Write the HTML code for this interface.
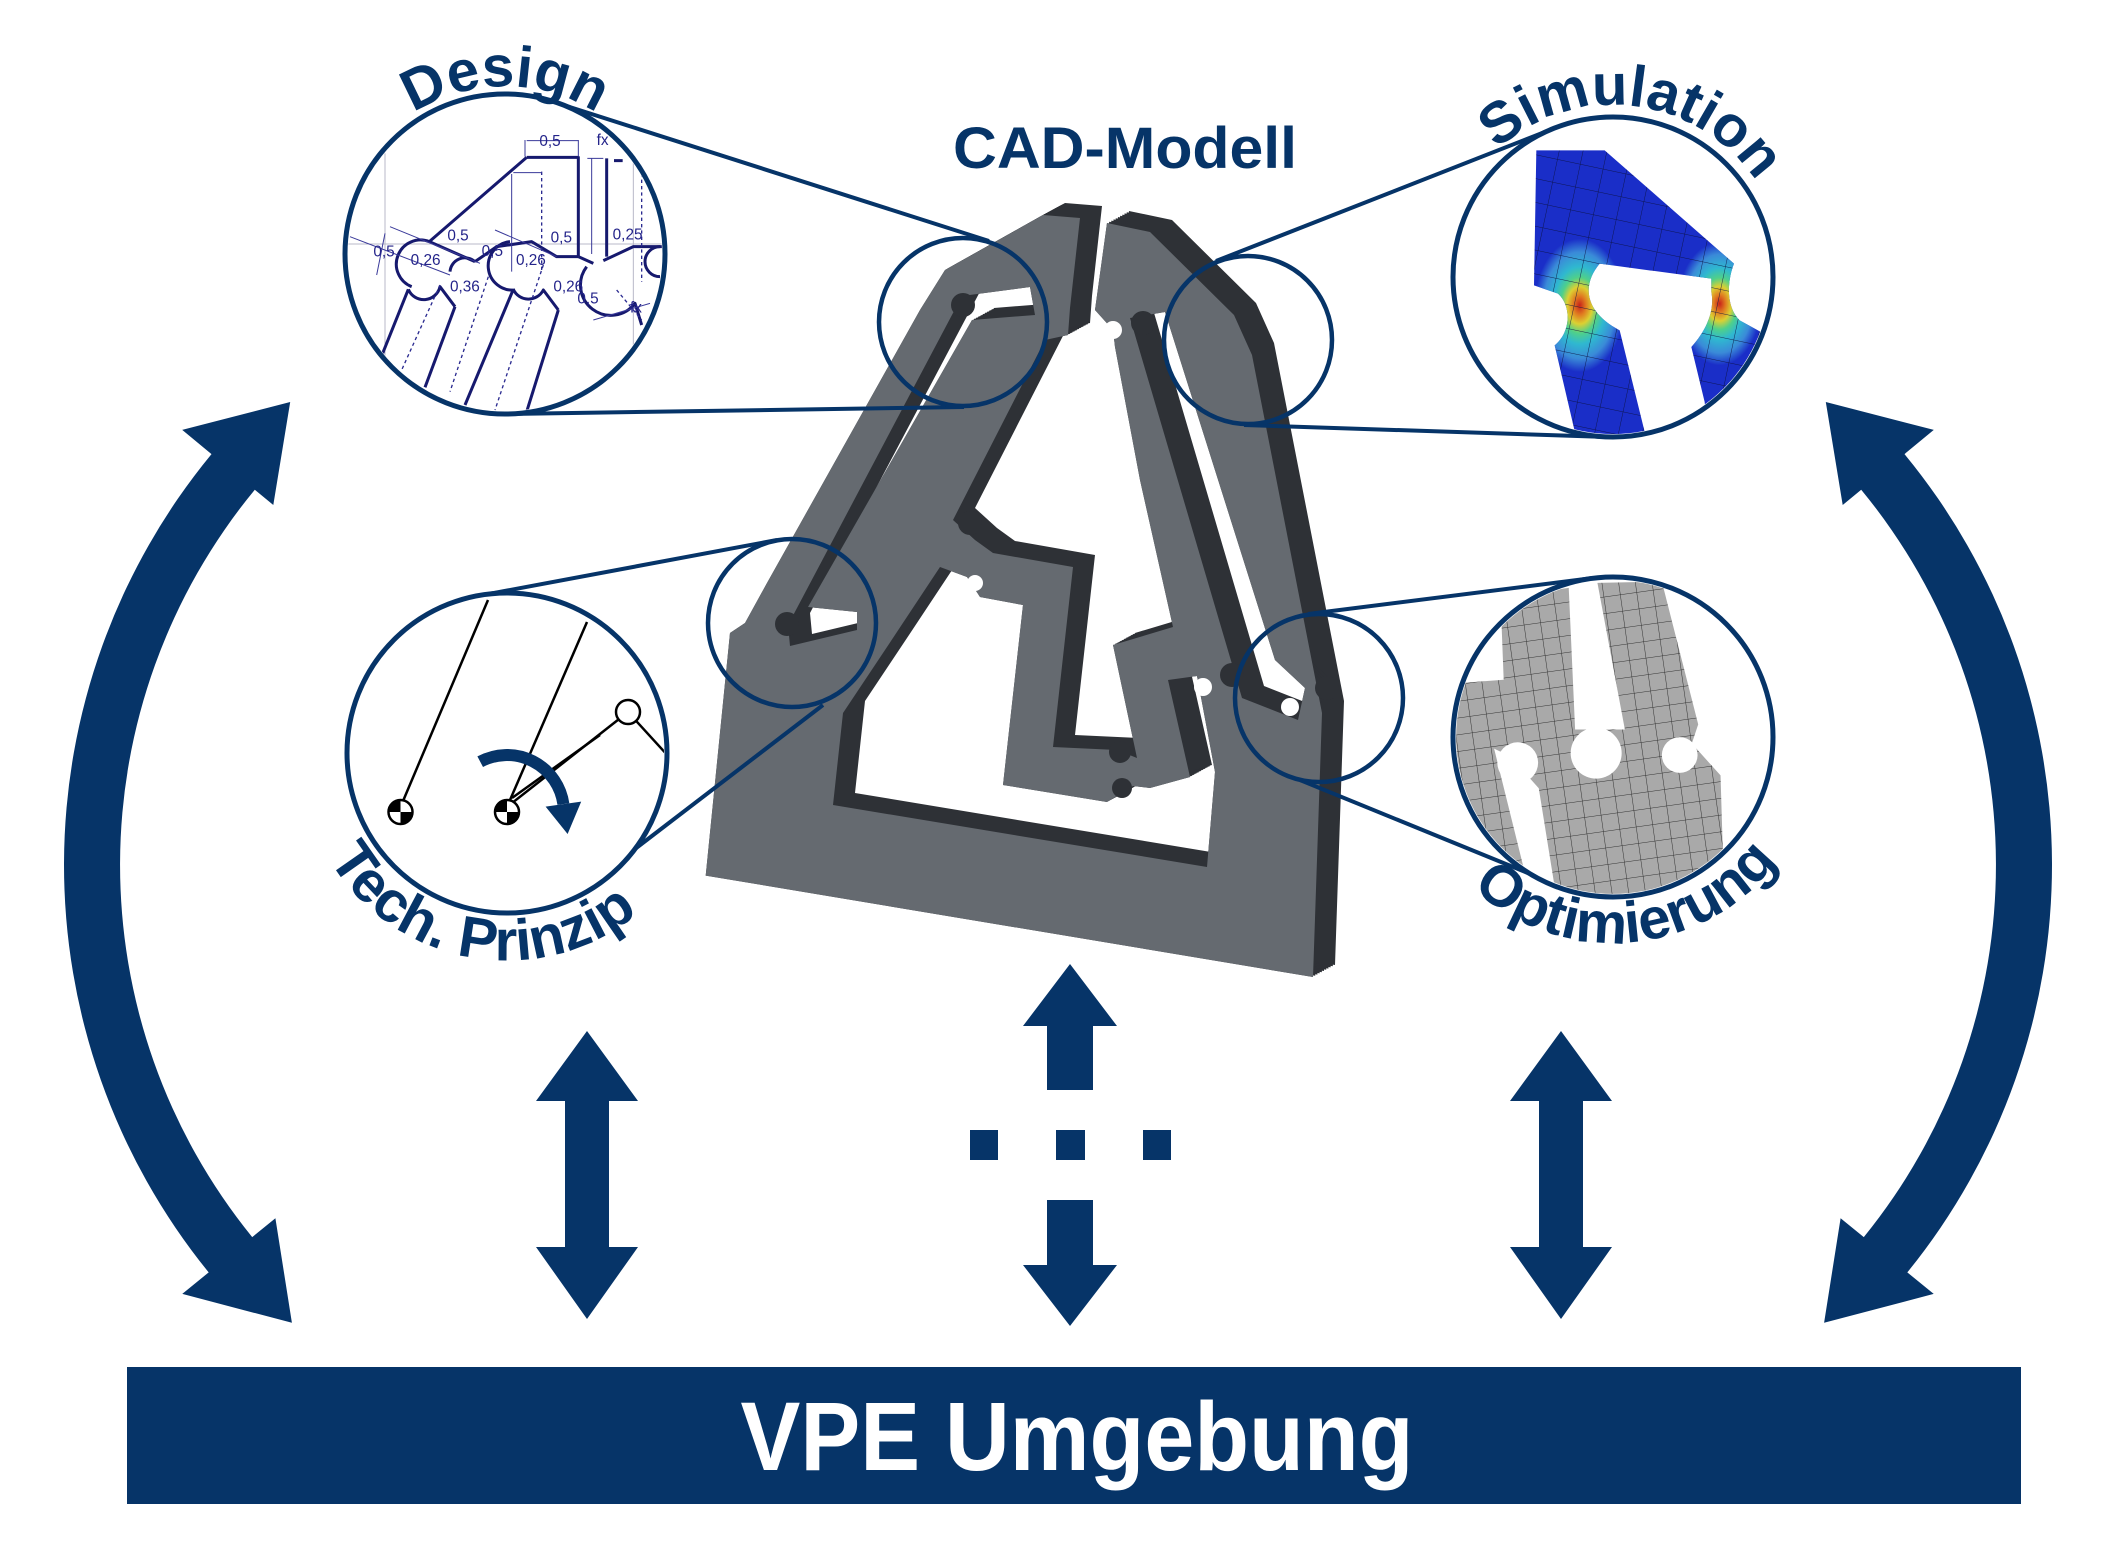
<!DOCTYPE html>
<html><head><meta charset="utf-8"><style>
html,body{margin:0;padding:0;background:#fff;}
svg{display:block;}
</style></head><body>
<svg width="2121" height="1561" viewBox="0 0 2121 1561" xmlns="http://www.w3.org/2000/svg">
<defs>
<path id="F" fill-rule="evenodd" d="M705.7,875.6 L730,633 L745,623 L767,583 L920,310 L945,270 L1043,215 L1080,218 L1070,308 L1068,335 L1045,340 L953,520 L975,540 L993,553 L1073,567 L1053,747 L1117,750 L1137,758 L1113,645 L1173,627 L1140,480 L1115,347 L1113,330 L1095,310 L1107,223 L1150,232 L1234,315 L1252,355 L1322,713 L1313,977 Z
M940,567 L967,577 L980,597 L1023,605 L1003,785 L1107,802 L1133,786 L1150,788 L1190,777 L1168,680 L1197,676 L1215,772 L1207,867 L833,805 L843,713 L887,647 Z
M962,296 L1030,287 L1035,315 L972,320 L808,607 L857,612 L857,630 L790,646 L788,625 Z
M1130,318 L1165,312 L1275,660 L1305,688 L1298,720 L1242,698 Z"/>
<clipPath id="cD"><circle cx="495" cy="492" r="471"/></clipPath>
<clipPath id="cS"><circle cx="495" cy="495" r="471"/></clipPath>
<clipPath id="cO"><circle cx="771.4" cy="559.7" r="246"/></clipPath>
<clipPath id="cT"><circle cx="507" cy="753" r="157"/></clipPath>
<path id="blueS" d="M265,115 L470,115 L858,455 C840,500 830,580 875,625 L930,655 L1000,700 L1000,1000 L780,1000 L770,870 L730,705 C780,650 800,590 790,540 L790,500 L455,455 C400,520 410,600 515,655 L600,1000 L390,1000 L320,700 C370,660 370,580 330,545 L258,520 Z"/>
<clipPath id="cBlue"><use href="#blueS"/></clipPath>
<radialGradient id="hot" cx="0.5" cy="0.5" r="0.5">
<stop offset="0" stop-color="#c8221a"/>
<stop offset="0.14" stop-color="#e07a20"/>
<stop offset="0.28" stop-color="#dcd032"/>
<stop offset="0.42" stop-color="#4fd08a"/>
<stop offset="0.58" stop-color="#2fb8d0"/>
<stop offset="0.8" stop-color="#3a8ad8"/>
<stop offset="1" stop-color="#3a8ad8" stop-opacity="0"/>
</radialGradient>
<pattern id="meshS" width="70" height="70" patternUnits="userSpaceOnUse" patternTransform="rotate(12)">
<path d="M0,0H70M0,0V70" stroke="#0a1040" stroke-width="3" fill="none" opacity="0.85"/>
</pattern>
<pattern id="meshO" width="26" height="26" patternUnits="userSpaceOnUse" patternTransform="rotate(-8)">
<rect width="26" height="26" fill="#a9a9a9"/>
<path d="M0,0H26M0,0V26" stroke="#333" stroke-width="1.6" fill="none"/>
</pattern>
<path id="pD" d="M339.6,224.8 A168,168 0 0 1 670.4,224.8" fill="none"/>
<path id="pS" d="M1448.5,226.7 A172,172 0 0 1 1784.8,268" fill="none"/>
<path id="pT" d="M302,724.2 A207,207 0 0 0 709.5,796" fill="none"/>
<path id="pO" d="M1407.6,762.2 A207,207 0 0 0 1819.7,726.2" fill="none"/>
</defs>

<rect width="2121" height="1561" fill="#fff"/>

<!-- curved arrows -->
<path fill="#063468" d="M211.5,454.1 A646,646 0 0 0 208.7,1272.4 L182.3,1293.9 L291.9,1322.8 L275.4,1218.2 L252.2,1237.1 A590,590 0 0 1 254.8,489.7 L273.3,505 L290.2,402 L182.2,429.9 Z"/>
<path fill="#063468" d="M1904.5,454.1 A646,646 0 0 1 1907.3,1272.4 L1933.7,1293.9 L1824.1,1322.8 L1840.6,1218.2 L1863.8,1237.1 A590,590 0 0 0 1861.2,489.7 L1842.7,505 L1825.8,402 L1933.8,429.9 Z"/>

<!-- vertical arrows -->
<polygon fill="#063468" points="587,1031 638,1101 609,1101 609,1247 638,1247 587,1319 536,1247 565,1247 565,1101 536,1101"/>
<polygon fill="#063468" points="1561,1031 1612,1101 1583,1101 1583,1247 1612,1247 1561,1319 1510,1247 1539,1247 1539,1101 1510,1101"/>
<polygon fill="#063468" points="1070,964 1117,1026 1093,1026 1093,1090 1047,1090 1047,1026 1023,1026"/>
<polygon fill="#063468" points="1047,1200 1093,1200 1093,1265 1117,1265 1070,1326 1023,1265 1047,1265"/>
<rect x="970" y="1130" width="28" height="30" fill="#063468"/>
<rect x="1056" y="1130" width="29" height="30" fill="#063468"/>
<rect x="1143" y="1130" width="28" height="30" fill="#063468"/>

<!-- VPE bar -->
<rect x="127" y="1367" width="1894" height="137" fill="#063468"/>
<text x="1077" y="1470" text-anchor="middle" font-family="Liberation Sans, Arial, sans-serif" font-weight="bold" font-size="97" fill="#fff" textLength="673" lengthAdjust="spacingAndGlyphs">VPE Umgebung</text>

<!-- CAD model -->
<g fill="#2e3136">
<use href="#F"/>
<use href="#F" transform="translate(2.2,-1.2)"/>
<use href="#F" transform="translate(4.4,-2.4)"/>
<use href="#F" transform="translate(6.6,-3.6)"/>
<use href="#F" transform="translate(8.8,-4.8)"/>
<use href="#F" transform="translate(11,-6)"/>
<use href="#F" transform="translate(13.2,-7.2)"/>
<use href="#F" transform="translate(15.4,-8.4)"/>
<use href="#F" transform="translate(17.6,-9.6)"/>
<use href="#F" transform="translate(19.8,-10.8)"/>
<use href="#F" transform="translate(22,-12)"/>
</g>
<use href="#F" fill="#656a70"/>
<g fill="#2e3136">
<circle cx="963" cy="305" r="12"/>
<circle cx="787" cy="624" r="12"/>
<circle cx="970" cy="523" r="12"/>
<circle cx="1143" cy="323" r="12"/>
<circle cx="1232" cy="675" r="12"/>
<circle cx="1327" cy="688" r="12"/>
<circle cx="1120" cy="752" r="11"/>
<circle cx="1122" cy="788" r="10"/>
</g>
<g fill="#fff">
<circle cx="1113" cy="330" r="9"/>
<circle cx="1203" cy="687" r="9"/>
<circle cx="1290" cy="707" r="9"/>
<circle cx="975" cy="583" r="8"/>
</g>

<!-- connector lines -->
<g stroke="#063468" stroke-width="4" fill="none">
<line x1="554" y1="102" x2="989" y2="241"/>
<line x1="507" y1="414" x2="964" y2="407"/>
<line x1="478" y1="596" x2="777" y2="540"/>
<line x1="631" y1="852" x2="823" y2="705"/>
<line x1="1555" y1="128" x2="1216" y2="261"/>
<line x1="1608" y1="437" x2="1244" y2="425"/>
<line x1="1593" y1="578" x2="1308" y2="614"/>
<line x1="1300" y1="780" x2="1545" y2="880"/>
</g>
<!-- small circles -->
<g stroke="#063468" stroke-width="4.5" fill="none">
<circle cx="963" cy="322" r="84"/>
<circle cx="1248" cy="340" r="84"/>
<circle cx="792" cy="623" r="84"/>
<circle cx="1319" cy="698" r="84"/>
</g>

<!-- big circles background -->
<g fill="#fff">
<circle cx="505" cy="254" r="160"/>
<circle cx="507" cy="753" r="160"/>
<circle cx="1613" cy="277" r="160"/>
<circle cx="1613" cy="737" r="160"/>
</g>

<!-- Design drawing -->
<g transform="translate(340,90) scale(0.333333)">
<g clip-path="url(#cD)">
<path d="M135,190V800 M20,462H980 M880,200V800" stroke="#b8b8c8" stroke-width="3" fill="none"/>
<g stroke="#16196e" stroke-width="9" fill="none" stroke-linejoin="round">
<path d="M560,202H715V500"/>
<path d="M560,202L268,455L405,515"/>
<path d="M405,515L470,470L575,455L650,500L715,500"/>
<path d="M205,598L128,790"/>
<path d="M345,650L255,892"/>
<path d="M205,598A50,50 0 0 0 300,590L345,650"/>
<path d="M520,598L375,945"/>
<path d="M655,660L560,965"/>
<path d="M520,598A50,50 0 0 0 610,600L655,660"/>
<path d="M268,455A60,60 0 0 0 215,590"/>
<path d="M330,545A45,45 0 0 1 405,515"/>
<path d="M510,455A50,50 0 0 0 525,600"/>
<path d="M715,500L760,520"/>
<path d="M740,530A78,78 0 1 0 885,640L905,705"/>
<path d="M790,512L880,470H975"/>
<path d="M800,205V500M822,212H848"/>
<path d="M960,470A45,45 0 0 0 960,560"/>
</g>
<g stroke="#2a2a90" stroke-width="4" stroke-dasharray="10 9" fill="none">
<path d="M605,245V548M905,250V575M300,585L185,840M445,560L330,905M610,525L465,960M830,600L905,690"/>
</g>
<g stroke="#3a3a9a" stroke-width="3" fill="none">
<path d="M555,150V200M715,150V200M560,152H715M520,248H605M515,252V545M755,205V492M742,205H790M30,440L330,555M150,410L420,520M465,420L650,500M760,690L930,640M110,555L135,430"/>
</g>
<g font-family="Liberation Sans, Arial, sans-serif" font-size="46" fill="#24248a">
<text x="598" y="168">0,5</text>
<text x="770" y="165">fx</text>
<text x="322" y="452">0,5</text>
<text x="632" y="458">0,5</text>
<text x="818" y="448">0,25</text>
<text x="100" y="500">0,5</text>
<text x="212" y="525">0,26</text>
<text x="425" y="498">0,5</text>
<text x="528" y="525">0,26</text>
<text x="330" y="605">0,36</text>
<text x="640" y="605">0,26</text>
<text x="712" y="640">0,5</text>
<text x="870" y="668">fx</text>
</g>
</g>
</g>

<!-- Simulation -->
<g transform="translate(1448,112) scale(0.333333)">
<g clip-path="url(#cS)">
<use href="#blueS" fill="#1a2ec8"/>
<g clip-path="url(#cBlue)">
<ellipse cx="395" cy="580" rx="135" ry="200" fill="url(#hot)"/>
<ellipse cx="815" cy="575" rx="125" ry="185" fill="url(#hot)"/>
<rect x="0" y="0" width="1000" height="1000" fill="url(#meshS)"/>
</g>
</g>
</g>

<!-- Optimierung -->
<g transform="translate(1121,380) scale(0.6378)">
<g clip-path="url(#cO)">
<path fill="url(#meshO)" d="M470,480 L600,470 L595,340 L702,326 L712,548 L790,548 L747,318 L848,316 L905,540 L895,570 L940,620 L950,950 L705,950 L655,640 L610,590 L585,578 L640,800 L470,800 Z"/>
<circle cx="745" cy="585" r="40" fill="#fff"/>
<circle cx="876" cy="588" r="28" fill="#fff"/>
<circle cx="622" cy="600" r="32" fill="#fff"/>
</g>
</g>

<!-- Tech. Prinzip drawing -->
<g clip-path="url(#cT)">
<g stroke="#000" stroke-width="2.5" fill="none">
<line x1="488" y1="600" x2="400.5" y2="807"/>
<line x1="587" y1="622" x2="507" y2="807"/>
<line x1="507" y1="807" x2="628" y2="712"/>
<line x1="512" y1="798" x2="600" y2="735"/>
<line x1="628" y1="712" x2="670" y2="758"/>
</g>
<circle cx="628" cy="712" r="12" fill="#fff" stroke="#000" stroke-width="2.5"/>
<g>
<circle cx="400.5" cy="812" r="12" fill="#fff" stroke="#000" stroke-width="2.5"/>
<path d="M400.5,812 L388.5,812 A12,12 0 0 1 400.5,800 Z M400.5,812 L412.5,812 A12,12 0 0 1 400.5,824 Z" fill="#000"/>
<circle cx="507" cy="812" r="12" fill="#fff" stroke="#000" stroke-width="2.5"/>
<path d="M507,812 L495,812 A12,12 0 0 1 507,800 Z M507,812 L519,812 A12,12 0 0 1 507,824 Z" fill="#000"/>
</g>
<path d="M480.2,761.7 A57,57 0 0 1 563.4,804.1" stroke="#063468" stroke-width="12" fill="none"/>
<polygon points="545.6,806.6 581.2,801.6 567.6,834" fill="#063468"/>
</g>

<!-- big circle outlines -->
<g stroke="#063468" stroke-width="5" fill="none">
<circle cx="505" cy="254" r="160"/>
<circle cx="507" cy="753" r="160"/>
<circle cx="1613" cy="277" r="160"/>
<circle cx="1613" cy="737" r="160"/>
</g>

<!-- labels -->
<g font-family="Liberation Sans, Arial, sans-serif" font-weight="bold" font-size="58" fill="#063468">
<text><textPath href="#pD" startOffset="50%" text-anchor="middle">Design</textPath></text>
<text><textPath href="#pS" startOffset="50%" text-anchor="middle">Simulation</textPath></text>
<text><textPath href="#pT" startOffset="50%" text-anchor="middle">Tech. Prinzip</textPath></text>
<text><textPath href="#pO" startOffset="50%" text-anchor="middle">Optimierung</textPath></text>
<text x="1125" y="168" text-anchor="middle" textLength="344" lengthAdjust="spacingAndGlyphs">CAD-Modell</text>
</g>
</svg>
</body></html>
